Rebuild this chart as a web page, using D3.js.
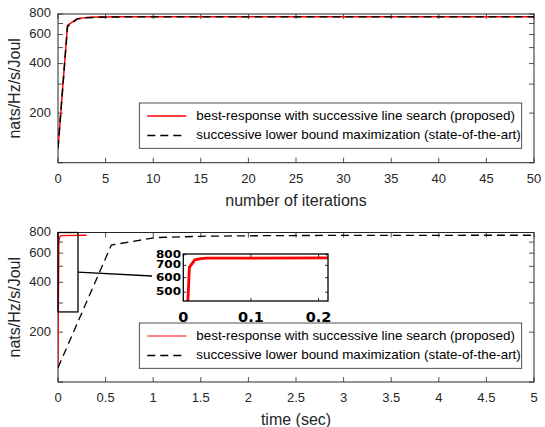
<!DOCTYPE html>
<html>
<head>
<meta charset="utf-8">
<script src="https://cdn.jsdelivr.net/npm/d3@7"></script>
<style>
  body { margin: 0; background: #fff; }
  svg { display: block; }
  text { font-family: "Liberation Sans", Arial, Helvetica, sans-serif; }
  text.inset { font-family: "DejaVu Sans", sans-serif; font-weight: bold; }
</style>
</head>
<body>
<svg id="chart" width="545" height="427"></svg>
<script>
// ---- data ----
const iterations = [0,1,2,3,4,5,6,7,8,9,10,11,12,13,14,15,16,17,18,19,20,21,22,23,24,25,
  26,27,28,29,30,31,32,33,34,35,36,37,38,39,40,41,42,43,44,45,46,47,48,49,50];
const proposedByIter = [122,683,750,762,766,768,769,769,770,770,770,770,770,770,770,770,770,
  770,770,770,770,770,770,770,770,770,770,770,770,770,770,770,770,770,770,770,770,770,770,
  770,770,770,770,770,770,770,770,770,770,770,770];
const baselineByIter = [122,672,745,759,764,767,768,769,769,770,770,770,770,770,770,770,770,
  770,770,770,770,770,770,770,770,770,770,770,770,770,770,770,770,770,770,770,770,770,770,
  770,770,770,770,770,770,770,770,770,770,770,770];

const proposedTime = [0, 0.009, 0.017, 0.026, 0.035, 0.30];
const proposedTimeVal = [122, 683, 750, 762, 766, 770];
const baselineTime = [0, 0.56, 1.02, 1.49, 1.97, 2.45, 2.93, 3.41, 3.89, 4.37, 4.85, 5.33];
const baselineTimeVal = [122, 672, 745, 759, 764, 767, 768, 769, 769, 770, 770, 770];

const iterTicks = [0,5,10,15,20,25,30,35,40,45,50];
const timeTicks = [0,0.5,1,1.5,2,2.5,3,3.5,4,4.5,5];
const yTickMarks = [100,200,300,400,500,600,700,800];
const yTickLabels = [200,400,600,800];
const insetXTicks = [0,0.1,0.2];
const insetYTicks = [500,600,700,800];
const zoomBoxT = [0, 0.21];
const zoomBoxV = [265, 800];

const legendNames = ["best-response with successive line search (proposed)",
                     "successive lower bound maximization (state-of-the-art)"];
const yTitle = "nats/Hz/s/Joul";

// ---- drawing ----
const svg = d3.select("#chart");
const AX = "#262626";
const left = 58, right = 534;
const TL = 5;

function panel(top, bottom, xDomain, xTicks, xTitle, id) {
  const x = d3.scaleLinear().domain(xDomain).range([left, right]);
  const y = d3.scaleLog().domain([100, 800]).range([bottom, top]);
  const g = svg.append("g");
  g.append("clipPath").attr("id", id).append("rect")
    .attr("x", left).attr("y", top).attr("width", right - left).attr("height", bottom - top);
  xTicks.forEach(v => {
    g.append("line").attr("x1", x(v)).attr("x2", x(v)).attr("y1", bottom).attr("y2", bottom - TL)
      .attr("stroke", AX).attr("stroke-width", 0.8);
    g.append("line").attr("x1", x(v)).attr("x2", x(v)).attr("y1", top).attr("y2", top + TL)
      .attr("stroke", AX).attr("stroke-width", 0.8);
    g.append("text").attr("x", x(v)).attr("y", bottom + 17).attr("text-anchor", "middle")
      .attr("dominant-baseline", "middle").attr("font-size", 13).attr("fill", AX).text(v);
  });
  yTickMarks.forEach(v => {
    g.append("line").attr("x1", left).attr("x2", left + TL).attr("y1", y(v)).attr("y2", y(v))
      .attr("stroke", AX).attr("stroke-width", 0.8);
    g.append("line").attr("x1", right).attr("x2", right - TL).attr("y1", y(v)).attr("y2", y(v))
      .attr("stroke", AX).attr("stroke-width", 0.8);
  });
  yTickLabels.forEach(v => {
    g.append("text").attr("x", left - 7).attr("y", y(v)).attr("text-anchor", "end")
      .attr("dominant-baseline", "middle").attr("font-size", 13).attr("fill", AX).text(v);
  });
  g.append("rect").attr("x", left).attr("y", top).attr("width", right - left)
    .attr("height", bottom - top).attr("fill", "none").attr("stroke", AX).attr("stroke-width", 1);
  g.append("text").attr("x", (left + right) / 2).attr("y", bottom + 39).attr("text-anchor", "middle")
    .attr("dominant-baseline", "middle").attr("font-size", 16).attr("fill", AX).text(xTitle);
  g.append("text").attr("transform", `translate(16,${(top + bottom) / 2}) rotate(-90)`)
    .attr("text-anchor", "middle").attr("dominant-baseline", "middle")
    .attr("font-size", 16).attr("fill", AX).text(yTitle);
  const plot = g.append("g").attr("clip-path", `url(#${id})`);
  return { x, y, g, plot, top, bottom };
}

function legend(g, x0, y0, w, h, redWidth) {
  g.append("rect").attr("x", x0).attr("y", y0).attr("width", w).attr("height", h)
    .attr("fill", "#fff").attr("stroke", AX).attr("stroke-width", 0.8);
  const rows = [y0 + 13, y0 + 32.5];
  g.append("line").attr("x1", x0 + 8).attr("x2", x0 + 47).attr("y1", rows[0]).attr("y2", rows[0])
    .attr("stroke", "#ff0000").attr("stroke-width", redWidth);
  g.append("line").attr("x1", x0 + 8).attr("x2", x0 + 47).attr("y1", rows[1]).attr("y2", rows[1])
    .attr("stroke", "#000").attr("stroke-width", 1.3).attr("stroke-dasharray", "8,5");
  legendNames.forEach((t, i) => {
    g.append("text").attr("x", x0 + 57).attr("y", rows[i]).attr("dominant-baseline", "middle")
      .attr("font-size", 13.4).attr("fill", "#000").text(t);
  });
}

// top panel: convergence per iteration
const p1 = panel(14, 162.7, [0, 50], iterTicks, "number of iterations", "clipTop");
const lineIt = (vals) => d3.line().x((d, i) => p1.x(iterations[i])).y(d => p1.y(d))(vals);
p1.plot.append("path").attr("d", lineIt(proposedByIter)).attr("fill", "none")
  .attr("stroke", "#ff0000").attr("stroke-width", 1.5);
p1.plot.append("path").attr("d", lineIt(baselineByIter)).attr("fill", "none")
  .attr("stroke", "#000").attr("stroke-width", 1.5).attr("stroke-dasharray", "8,5");
legend(p1.g, 139.3, 103, 382.4, 45.3, 1.5);

// bottom panel: convergence vs time
const p2 = panel(232.5, 382, [0, 5], timeTicks, "time (sec)", "clipBot");
const lineT = (ts, vals) => d3.line().x((d, i) => p2.x(ts[i])).y(d => p2.y(d))(vals);
p2.plot.append("path").attr("d", lineT(proposedTime, proposedTimeVal)).attr("fill", "none")
  .attr("stroke", "#ff0000").attr("stroke-width", 1.3);
p2.plot.append("path").attr("d", lineT(baselineTime, baselineTimeVal)).attr("fill", "none")
  .attr("stroke", "#000").attr("stroke-width", 1.3).attr("stroke-dasharray", "8,5");

// zoom box and connector
const bx0 = p2.x(zoomBoxT[0]), bx1 = p2.x(zoomBoxT[1]);
const by0 = p2.y(zoomBoxV[1]), by1 = p2.y(zoomBoxV[0]);
p2.g.append("rect").attr("x", bx0).attr("y", by0).attr("width", bx1 - bx0).attr("height", by1 - by0)
  .attr("fill", "none").attr("stroke", "#000").attr("stroke-width", 1.3);

// inset axes
const ix = d3.scaleLinear().domain([0, 0.214]).range([183.3, 328]);
const iy = d3.scaleLog().domain([448, 807]).range([301, 254]);
p2.g.append("line").attr("x1", bx1).attr("y1", (by0 + by1) / 2).attr("x2", 152).attr("y2", 276)
  .attr("stroke", "#000").attr("stroke-width", 1.3);
const ig = p2.g.append("g");
ig.append("rect").attr("x", 183.3).attr("y", 254).attr("width", 328 - 183.3).attr("height", 47)
  .attr("fill", "#fff");
ig.append("clipPath").attr("id", "clipInset").append("rect")
  .attr("x", 183.3).attr("y", 254).attr("width", 328 - 183.3).attr("height", 47);
ig.append("g").attr("clip-path", "url(#clipInset)").append("path")
  .attr("d", d3.line().x((d, i) => ix(proposedTime[i])).y(d => iy(d))(proposedTimeVal))
  .attr("fill", "none").attr("stroke", "#ff0000").attr("stroke-width", 2.8);
insetXTicks.forEach(v => {
  ig.append("line").attr("x1", ix(v)).attr("x2", ix(v)).attr("y1", 301).attr("y2", 298)
    .attr("stroke", "#000").attr("stroke-width", 0.8);
  ig.append("line").attr("x1", ix(v)).attr("x2", ix(v)).attr("y1", 254).attr("y2", 257)
    .attr("stroke", "#000").attr("stroke-width", 0.8);
  ig.append("text").attr("class", "inset").attr("x", ix(v)).attr("y", 318).attr("text-anchor", "middle")
    .attr("dominant-baseline", "middle").attr("font-size", 14.5).attr("fill", "#000").text(v);
});
insetYTicks.forEach(v => {
  ig.append("line").attr("x1", 183.3).attr("x2", 186.3).attr("y1", iy(v)).attr("y2", iy(v))
    .attr("stroke", "#000").attr("stroke-width", 0.8);
  ig.append("line").attr("x1", 328).attr("x2", 325).attr("y1", iy(v)).attr("y2", iy(v))
    .attr("stroke", "#000").attr("stroke-width", 0.8);
  ig.append("text").attr("class", "inset").attr("x", 181).attr("y", iy(v)).attr("text-anchor", "end")
    .attr("dominant-baseline", "middle").attr("font-size", 10)
    .attr("textLength", 25).attr("lengthAdjust", "spacingAndGlyphs")
    .attr("fill", "#000").text(v);
});
ig.append("rect").attr("x", 183.3).attr("y", 254).attr("width", 328 - 183.3).attr("height", 47)
  .attr("fill", "none").attr("stroke", "#000").attr("stroke-width", 1.3);

legend(p2.g, 139.3, 323, 382.4, 45.3, 1.2);
</script>
</body>
</html>
